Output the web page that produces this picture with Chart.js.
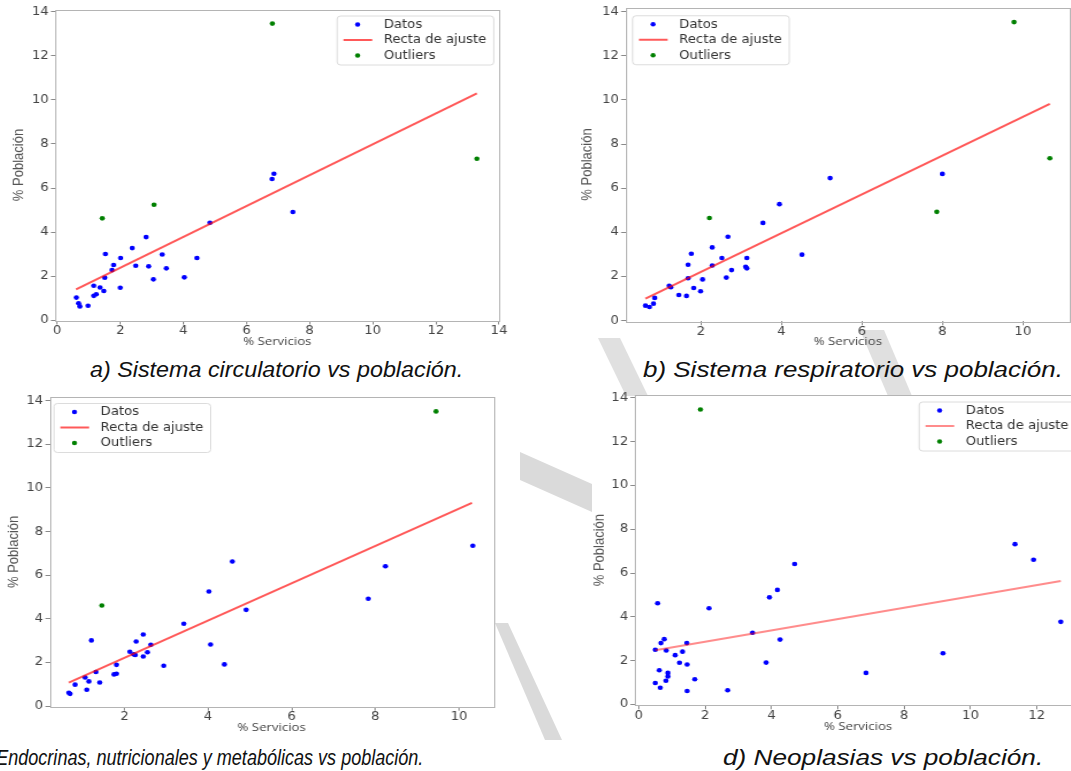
<!DOCTYPE html>
<html>
<head>
<meta charset="utf-8">
<script src="https://cdn.jsdelivr.net/npm/chart.js@4.4.1/dist/chart.umd.min.js"></script>
<style>
  html, body { margin: 0; padding: 0; background: #fff; }
  body { width: 1071px; height: 771px; overflow: hidden; position: relative; }
  .panel { position: absolute; transform: scaleX(1.15); transform-origin: 0 0; }
  .caption { position: absolute; font: italic 22px "Liberation Sans", Arial, sans-serif; color: #111; white-space: nowrap; line-height: 26px; }
  #mark { position: absolute; left: 0; top: 0; }
</style>
</head>
<body>

<!-- light grey watermark strokes seen between the panels -->
<svg id="mark" width="1071" height="771">
  <polygon points="598,338 620,338 648,396 626,396" fill="#e0e0e0"/>
  <polygon points="860,330 884,330 912,396 888,396" fill="#e0e0e0"/>
  <polygon points="520,452 592,484 592,512 520,480" fill="#dadada"/>
  <polygon points="495,623 508,623 562,740 545,740" fill="#dadada"/>
</svg>

<div class="panel" style="left:0px;top:0px"><canvas id="chartA" width="448" height="352"></canvas></div>
<div class="panel" style="left:565px;top:0px"><canvas id="chartB" width="452" height="352"></canvas></div>
<div class="panel" style="left:-5px;top:388px"><canvas id="chartC" width="447" height="350"></canvas></div>
<div class="panel" style="left:575px;top:386px"><canvas id="chartD" width="452" height="351"></canvas></div>

<div class="caption" style="left:90px;top:357px;transform:scaleX(1.06);transform-origin:0 0">a) Sistema circulatorio vs población.</div>
<div class="caption" style="left:643px;top:357px;transform:scaleX(1.18);transform-origin:0 0">b) Sistema respiratorio vs población.</div>
<div class="caption" style="right:648px;top:745px;transform:scaleX(0.82);transform-origin:100% 0">c) Endocrinas, nutricionales y metabólicas vs población.</div>
<div class="caption" style="left:723px;top:745px;transform:scaleX(1.19);transform-origin:0 0">d) Neoplasias vs población.</div>

<script>
/* ================= DATA ================= */

// a) Sistema circulatorio
const datosAX = [0.61, 0.68, 0.72, 0.98, 1.16, 1.16, 1.24, 1.36, 1.48, 1.51, 1.53, 1.79, 1.74, 2.00, 2.01, 2.38, 2.49, 2.82, 2.90, 3.05, 3.33, 3.46, 4.03, 4.43, 4.84, 6.81, 6.87, 7.47];
const datosAY = [1.02, 0.76, 0.62, 0.65, 1.56, 1.10, 1.17, 1.48, 1.32, 1.92, 3.00, 2.50, 2.27, 1.47, 2.82, 3.27, 2.47, 3.77, 2.44, 1.85, 2.98, 2.35, 1.94, 2.82, 4.42, 6.41, 6.65, 4.91];
const outAX = [1.43, 3.07, 6.82, 13.30];
const outAY = [4.62, 5.24, 13.47, 7.33];
const fitAX = [0.60, 13.30];
const fitAY = [1.39, 10.30];

// b) Sistema respiratorio
const datosBX = [0.62, 0.72, 0.82, 0.85, 1.21, 1.25, 1.45, 1.64, 1.68, 1.68, 1.76, 1.82, 1.99, 2.04, 2.28, 2.28, 2.52, 2.63, 2.67, 2.76, 3.11, 3.14, 3.14, 3.54, 3.95, 4.51, 5.21, 8.00];
const datosBY = [0.68, 0.62, 0.77, 1.03, 1.58, 1.51, 1.16, 1.12, 1.92, 2.53, 3.03, 1.48, 1.33, 1.87, 3.32, 2.50, 2.84, 1.95, 3.80, 2.29, 2.44, 2.37, 2.84, 4.43, 5.28, 2.99, 6.46, 6.65];
const outBX = [2.21, 7.86, 9.78, 10.67];
const outBY = [4.65, 4.93, 13.53, 7.36];
const fitBX = [0.62, 10.67];
const fitBY = [1.00, 9.82];

// c) Endocrinas, nutricionales y metabolicas
const datosCX = [0.67, 0.70, 0.82, 1.06, 1.10, 1.15, 1.21, 1.32, 1.41, 1.75, 1.81, 1.81, 2.13, 2.22, 2.26, 2.28, 2.45, 2.45, 2.55, 2.63, 2.94, 3.42, 4.02, 4.06, 4.39, 4.58, 4.91, 7.83, 8.24, 10.33];
const datosCY = [0.61, 0.56, 0.98, 1.31, 0.75, 1.13, 3.01, 1.56, 1.08, 1.45, 1.48, 1.89, 2.49, 2.37, 2.34, 2.96, 3.28, 2.27, 2.47, 2.81, 1.85, 3.77, 5.25, 2.82, 1.91, 6.63, 4.41, 4.92, 6.41, 7.35];
const outCX = [1.46, 9.45];
const outCY = [4.61, 13.51];
const fitCX = [0.67, 10.31];
const fitCY = [1.07, 9.32];

// d) Neoplasias
const datosDX = [0.57, 0.77, 0.67, 0.50, 0.83, 1.45, 1.10, 1.32, 1.23, 1.46, 0.62, 0.88, 0.88, 0.82, 0.50, 0.65, 1.69, 1.46, 2.68, 2.12, 3.43, 3.84, 3.94, 4.18, 4.26, 4.70, 6.85, 9.17, 11.34, 11.90, 12.72];
const datosDY = [4.62, 2.98, 2.80, 2.50, 2.46, 2.80, 2.25, 2.41, 1.90, 1.82, 1.56, 1.44, 1.28, 1.08, 0.98, 0.76, 1.15, 0.61, 0.65, 4.39, 3.27, 1.91, 4.89, 5.23, 2.96, 6.41, 1.44, 2.34, 7.32, 6.61, 3.77];
const outDX = [1.86];
const outDY = [13.47];
const fitDX = [0.50, 12.72];
const fitDY = [2.47, 5.64];

const tickValues = [0, 2, 4, 6, 8, 10, 12, 14];
const seriesLabels = ["Datos", "Recta de ajuste", "Outliers"];
const xTitle = "% Servicios";
const yTitle = "% Población";

/* ================= PLUGINS ================= */

// white plot background and matplotlib style frame (all four spines)
const framePlugin = {
  id: "frame",
  beforeDraw(chart) {
    const { ctx, chartArea: a } = chart;
    ctx.save();
    ctx.fillStyle = "#fff";
    ctx.fillRect(a.left, a.top, a.right - a.left, a.bottom - a.top);
    ctx.restore();
  },
  afterDatasetsDraw(chart) {
    const { ctx, chartArea: a } = chart;
    ctx.save();
    ctx.strokeStyle = "#b4b4b4";
    ctx.lineWidth = 1;
    ctx.strokeRect(Math.round(a.left) + 0.5, Math.round(a.top) + 0.5,
      Math.round(a.right - a.left), Math.round(a.bottom - a.top));
    ctx.restore();
  }
};

// legend box drawn inside the plot, like matplotlib
const boxLegend = {
  id: "boxLegend",
  afterDraw(chart, args, opts) {
    const { ctx, chartArea: a } = chart;
    const sets = chart.data.datasets;
    ctx.save();
    ctx.font = '11.5px "DejaVu Sans"';
    const textW = Math.max(...sets.map(d => ctx.measureText(d.label).width));
    const w = 41 + textW + 6, h = 49;
    const x = opts.side === "right" ? a.right - opts.dx - w : a.left + opts.dx;
    const y = a.top + opts.dy;

    ctx.beginPath();
    ctx.roundRect(x + 0.5, y + 0.5, w, h, 3);
    ctx.fillStyle = "rgba(255,255,255,0.85)";
    ctx.fill();
    ctx.strokeStyle = "#dcdcdc";
    ctx.lineWidth = 1;
    ctx.stroke();

    sets.forEach((d, i) => {
      const cy = y + 9 + i * 15.5;
      if (d.showLine) {
        ctx.beginPath();
        ctx.moveTo(x + 6, cy);
        ctx.lineTo(x + 31, cy);
        ctx.strokeStyle = d.borderColor;
        ctx.lineWidth = 2;
        ctx.stroke();
      } else {
        ctx.beginPath();
        ctx.arc(x + 18.3, cy, 2.2, 0, Math.PI * 2);
        ctx.fillStyle = d.backgroundColor;
        ctx.fill();
      }
      ctx.fillStyle = "#333";
      ctx.textBaseline = "middle";
      ctx.fillText(d.label, x + 41, cy + 0.5);
    });
    ctx.restore();
  }
};

/* ================= HELPERS ================= */

function toPoints(xs, ys) {
  return xs.map((x, i) => ({ x: x, y: ys[i] }));
}

// only the even integer ticks, as matplotlib shows them
function evenTicks(scale) {
  scale.ticks = tickValues
    .filter(v => v >= scale.min && v <= scale.max)
    .map(v => ({ value: v }));
}

function drawPanel(id, p) {
  const tickFont = { family: "DejaVu Sans", size: 11.5, lineHeight: 1 };
  return new Chart(document.getElementById(id), {
    type: "scatter",
    data: {
      datasets: [
        {
          label: seriesLabels[0],
          data: toPoints(p.datosX, p.datosY),
          backgroundColor: "#0000ff",
          borderWidth: 0,
          pointRadius: 2.3,
          order: 2
        },
        {
          label: seriesLabels[1],
          data: toPoints(p.fitX, p.fitY),
          showLine: true,
          borderColor: p.lineColor,
          borderWidth: 2,
          pointRadius: 0,
          order: 1
        },
        {
          label: seriesLabels[2],
          data: toPoints(p.outX, p.outY),
          backgroundColor: "#008000",
          borderWidth: 0,
          pointRadius: 2.3,
          order: 0
        }
      ]
    },
    options: {
      responsive: false,
      animation: false,
      devicePixelRatio: 1,
      layout: { padding: { left: 0, top: p.top, right: p.right, bottom: 3 } },
      plugins: {
        legend: { display: false },
        tooltip: { enabled: false },
        boxLegend: { side: p.legendSide, dx: p.legendDx, dy: p.legendDy }
      },
      scales: {
        x: {
          type: "linear",
          bounds: "data",
          min: p.xMin,
          max: p.xMax,
          afterBuildTicks: evenTicks,
          afterFit: s => { s.height = p.xAxisH; },
          border: { display: false },
          grid: { drawOnChartArea: false, tickLength: 4, tickColor: "#8a8a8a" },
          ticks: { maxRotation: 0, autoSkip: false, padding: 1, color: "#444", font: tickFont, callback: v => String(v) },
          title: {
            display: true,
            text: xTitle,
            color: "#444",
            font: { family: "Open Sans", size: 11.5 },
            padding: { top: 0, bottom: 0 }
          }
        },
        y: {
          type: "linear",
          bounds: "data",
          min: p.yMin,
          max: p.yMax,
          afterBuildTicks: evenTicks,
          afterFit: s => { s.width = p.yAxisW; },
          border: { display: false },
          grid: { drawOnChartArea: false, tickLength: 4, tickColor: "#8a8a8a" },
          ticks: { autoSkip: false, padding: 2, color: "#444", font: tickFont, callback: v => String(v) },
          title: {
            display: true,
            text: yTitle,
            color: "#555",
            font: { family: "Liberation Sans", size: 13 },
            padding: { top: p.yTitlePad, bottom: 0 }
          }
        }
      }
    },
    plugins: [framePlugin, boxLegend]
  });
}

/* ================= DRAW ================= */

drawPanel("chartA", {
  datosX: datosAX, datosY: datosAY, outX: outAX, outY: outAY, fitX: fitAX, fitY: fitAY,
  lineColor: "rgba(255,0,0,0.65)",
  xMin: -0.05, xMax: 14.0, yMin: -0.02, yMax: 14.11,
  top: 9.5, right: 14.1, yAxisW: 48.3, xAxisH: 352 - 3 - 320.5, yTitlePad: 8.5,
  legendSide: "right", legendDx: 5, legendDy: 6
});

drawPanel("chartB", {
  datosX: datosBX, datosY: datosBY, outX: outBX, outY: outBY, fitX: fitBX, fitY: fitBY,
  lineColor: "rgba(255,0,0,0.65)",
  xMin: 0.13, xMax: 11.17, yMin: -0.03, yMax: 14.18,
  top: 7.3, right: 12.9, yAxisW: 52.8, xAxisH: 352 - 3 - 321.3, yTitlePad: 11.5,
  legendSide: "left", legendDx: 5.5, legendDy: 7.5
});

drawPanel("chartC", {
  datosX: datosCX, datosY: datosCY, outX: outCX, outY: outCY, fitX: fitCX, fitY: fitCY,
  lineColor: "rgba(255,0,0,0.65)",
  xMin: 0.22, xMax: 10.82, yMin: -0.03, yMax: 14.17,
  top: 9, right: 13.7, yAxisW: 47.8, xAxisH: 350 - 3 - 318.7, yTitlePad: 8.9,
  legendSide: "left", legendDx: 3, legendDy: 6
});

drawPanel("chartD", {
  datosX: datosDX, datosY: datosDY, outX: outDX, outY: outDY, fitX: fitDX, fitY: fitDY,
  lineColor: "rgba(255,0,0,0.45)",
  xMin: -0.11, xMax: 13.33, yMin: -0.04, yMax: 14.13,
  top: 9, right: 12, yAxisW: 52.2, xAxisH: 351 - 3 - 319.3, yTitlePad: 13.7,
  legendSide: "right", legendDx: 5, legendDy: 6.5
});
</script>
</body>
</html>
